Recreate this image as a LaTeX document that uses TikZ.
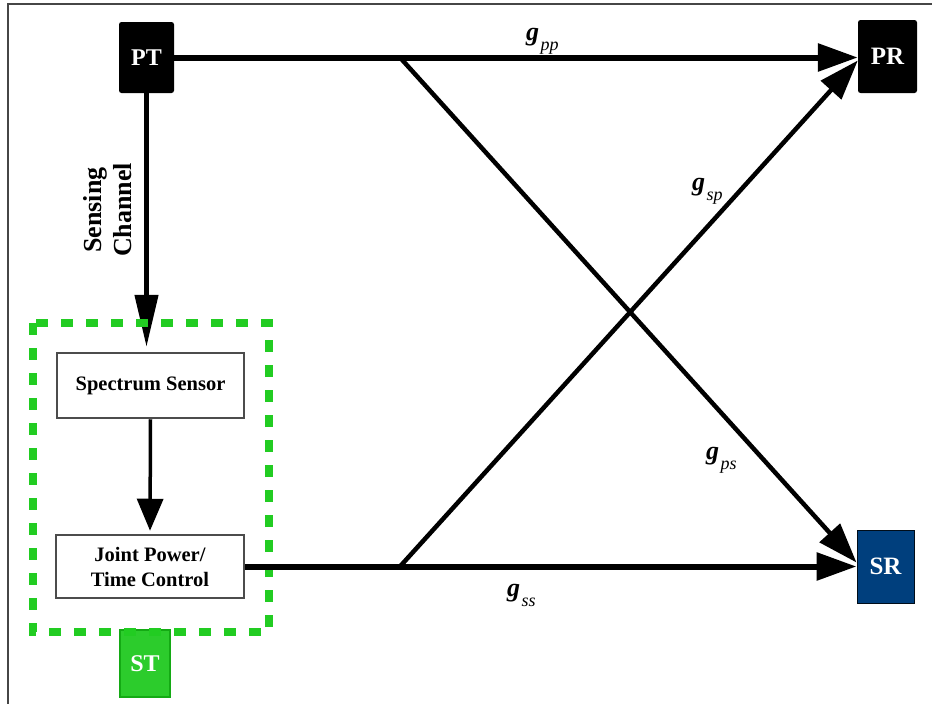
\documentclass[tikz,border=0pt]{standalone}
\usepackage{fontspec}
\setmainfont{Liberation Serif}
\usetikzlibrary{arrows.meta,calc}
\definecolor{stgreen}{RGB}{34,204,34}
\definecolor{stfill}{RGB}{44,204,44}
\definecolor{stedge}{RGB}{20,170,20}
\definecolor{srblue}{RGB}{0,63,125}
\definecolor{framegray}{RGB}{70,70,70}
\newcommand{\glabel}[1]{{\fontsize{26}{26}\selectfont\bfseries\itshape g}\kern1.5pt\raisebox{-10pt}{\fontsize{18}{18}\selectfont\itshape #1}}
\tikzset{
  darkbox/.style={rectangle, fill=black, rounded corners=2.5pt, text=white, font=\bfseries, inner sep=0pt},
  procbox/.style={rectangle, draw=black!70, line width=2.5pt, fill=white, align=center, inner sep=0pt,
    font=\fontsize{20.5}{25}\selectfont\bfseries},
  chan/.style={line width=6pt, -{Triangle[length=40pt,width=27pt]}},
  diag/.style={line width=4.5pt, -{Triangle[length=40pt,width=27pt]}},
  sensearrow/.style={line width=4.5pt, -{Triangle[length=52pt,width=23pt]}},
  innerarrow/.style={line width=3.5pt, -{Triangle[length=32pt,width=26pt]}},
  greendash/.style={draw=stgreen, line width=7.5pt, dash pattern=on 12pt off 13pt},
  glab/.style={inner sep=0pt, anchor=base west},
}
\begin{document}
\begin{tikzpicture}[x=1pt,y=-1pt]
\useasboundingbox (0,0) rectangle (932,704);
% frame
\draw[framegray, line width=1.2pt] (8,704) -- (8,4) -- (932,4);

% nodes
\node[darkbox, minimum width=55pt, minimum height=71pt, font=\fontsize{24}{24}\selectfont\bfseries] (PT) at (146.5,57.5) {PT};
\node[darkbox, minimum width=59pt, minimum height=73pt, font=\fontsize{25}{25}\selectfont\bfseries] (PR) at (887.5,56.5) {PR};
\node[rectangle, fill=srblue, draw=black!80!srblue, line width=1pt, text=white, inner sep=0pt,
      minimum width=57pt, minimum height=73pt, font=\fontsize{25}{25}\selectfont\bfseries] (SR) at (885.5,566.5) {SR};
\node[procbox, minimum width=187pt, minimum height=65pt] (SS) at (150.5,385.5) {Spectrum Sensor};
\node[procbox, minimum width=188pt, minimum height=63pt] (JP) at (150,566.5) {Joint Power/\\Time Control};
\node[rectangle, fill=stfill, draw=stedge, line width=1.5pt, text=white, inner sep=0pt,
      minimum width=50pt, minimum height=67pt, font=\fontsize{24}{24}\selectfont\bfseries] (ST) at (145,663.5) {ST};

% sensing channel
\draw[sensearrow, shorten >=5pt] (PT.south) -- (PT.south |- SS.north);
\node[align=center, rotate=90, inner sep=0pt, font=\fontsize{26}{30}\selectfont\bfseries] (SC) at (108,210) {Sensing\\Channel};

% green ST boundary
\draw[greendash] (33,323) rectangle (269,632);

\draw[innerarrow, shorten >=3pt] (SS.south) -- (JP.north);

% channels
\coordinate (b1) at (400,57.5);
\coordinate (b2) at (400,566.5);
\coordinate (prtip) at ($(PR.west)+(0,4)$);
\coordinate (srtip) at ($(SR.west)+(0,-4)$);
\draw[diag] (b1) -- (srtip);
\draw[diag] (b2) -- (prtip);
\draw[chan] (PT.east) -- (PT.east -| PR.west);
\draw[chan] (JP.east) -- (JP.east -| SR.west);

% labels
\node[glab] (lpp) at (526,40) {\glabel{pp}};
\node[glab] (lsp) at (692,190) {\glabel{sp}};
\node[glab] (lps) at (706,459) {\glabel{ps}};
\node[glab] (lss) at (507,596) {\glabel{ss}};
\end{tikzpicture}
\end{document}
